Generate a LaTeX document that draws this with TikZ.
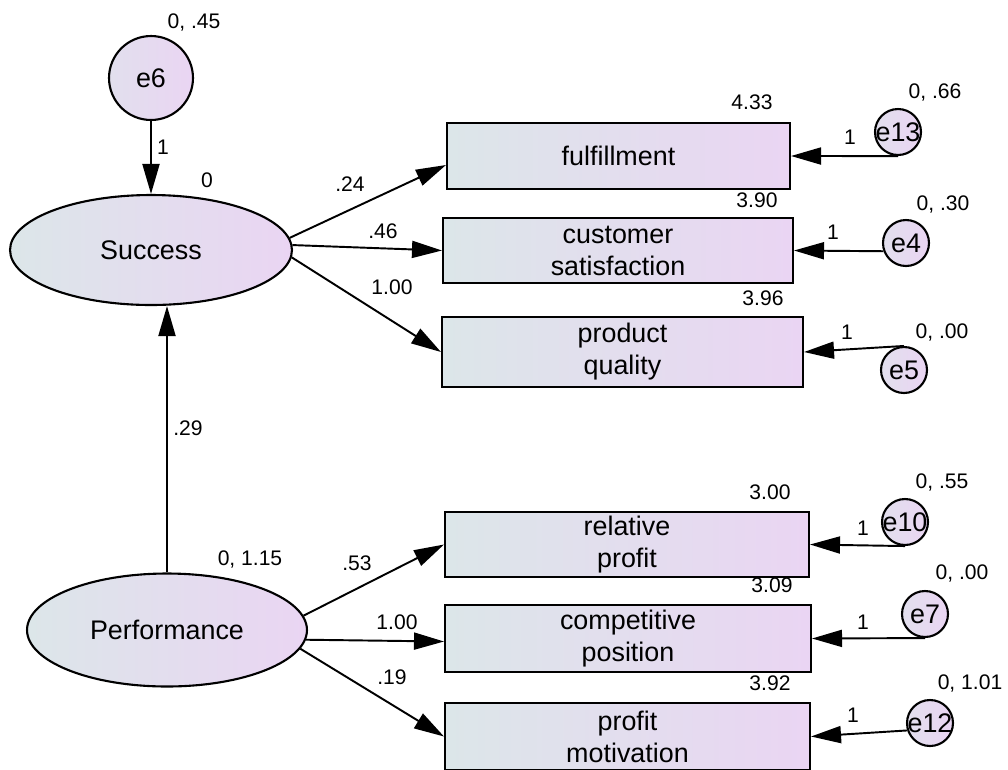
\documentclass[tikz,border=0pt]{standalone}
\usepackage{fontspec}
\setmainfont{Liberation Sans}
\usetikzlibrary{arrows.meta,shapes.geometric}
\definecolor{amosbl}{HTML}{DCE6E9}
\definecolor{amospk}{HTML}{EAD5F3}
\begin{document}
\begin{tikzpicture}[x=0.02cm,y=-0.02cm,
  every node/.style={font=\fontsize{15.3}{18.2}\selectfont},
  obs/.style={draw,line width=1.2pt,left color=amosbl,right color=amospk,align=center,inner sep=0},
  lat/.style={draw,ellipse,line width=1.2pt,left color=amosbl,right color=amospk,inner sep=0},
  err/.style={draw,circle,line width=1.2pt,left color=amosbl!60!amospk,right color=amospk,inner sep=0,minimum size=0.92cm},
  num/.style={font=\fontsize{12}{14}\selectfont,inner sep=0},
  arr/.style={line width=1.1pt,-{Triangle[length=0.6cm,width=0.34cm]}}]
\useasboundingbox (0,0) rectangle (1008,769);

\node[err,minimum size=1.68cm] (e6) at (151,78) {e6};
\node[lat,minimum width=5.64cm,minimum height=2.2cm] (suc) at (151,250) {Success};
\node[lat,minimum width=5.6cm,minimum height=2.26cm] (perf) at (167,630) {Performance};

\node[obs,minimum width=6.86cm,minimum height=1.32cm] (ful) at (618.5,156) {fulfillment};
\node[obs,minimum width=7cm,minimum height=1.3cm] (cs) at (618,250.5) {customer\\satisfaction};
\node[obs,minimum width=7.22cm,minimum height=1.4cm] (pq) at (622.5,352) {product\\quality};
\node[obs,minimum width=7.28cm,minimum height=1.3cm] (rp) at (627,544.5) {relative\\profit};
\node[obs,minimum width=7.32cm,minimum height=1.34cm] (cp) at (628,638.5) {competitive\\position};
\node[obs,minimum width=7.3cm,minimum height=1.34cm] (pm) at (627.5,736.5) {profit\\motivation};

\node[err] (e13) at (898,132) {\makebox[0pt]{e13}};
\node[err] (e4) at (906,243) {e4};
\node[err] (e5) at (904,370) {e5};
\node[err] (e10) at (905,522) {\makebox[0pt]{e10}};
\node[err] (e7) at (925,614) {e7};
\node[err] (e12) at (930,723) {\makebox[0pt]{e12}};

\draw[arr] (e6) -- (suc);
\draw[arr] (perf.north) -- (perf.north |- suc.south);
\draw[arr] (suc.5) -- ([yshift=-0.18cm]ful.west);
\draw[arr] (suc.2) -- (cs.west);
\draw[arr] (suc.-3) -- (pq.west);
\draw[arr] (perf.6) -- (rp.west);
\draw[arr] (perf.-4) -- ([yshift=-0.06cm]cp.west);
\draw[arr] (perf.-8) -- (pm.west);
\draw[arr] (e13.south) -- (ful.east);
\draw[arr] (e4.200) -- (cs.east);
\draw[arr] (e5.north) -- (pq.east);
\draw[arr] (e10.south) -- (rp.east);
\draw[arr] (e7.south) -- (cp.east);
\draw[arr] (e12.198) -- (pm.east);

\node[num] (v6) at (194,22) {0, .45};
\node[num] (w6) at (163,147) {1};
\node[num] (msuc) at (207,180) {0};
\node[num] (wful) at (350,184) {.24};
\node[num] (wcs) at (383,231) {.46};
\node[num] (wpq) at (392,287) {1.00};
\node[num] (wsuc) at (188,428) {.29};
\node[num] (vperf) at (250,559) {0, 1.15};
\node[num] (wrp) at (357,563) {.53};
\node[num] (wcp) at (397,622) {1.00};
\node[num] (wpm) at (392,677) {.19};

\node[num] (mful) at (752,102) {4.33};
\node[num] (mcs) at (757,200) {3.90};
\node[num] (mpq) at (763,298) {3.96};
\node[num] (mrp) at (770,492) {3.00};
\node[num] (mcp) at (772,585) {3.09};
\node[num] (mpm) at (770,683) {3.92};

\node[num] (v13) at (935,92) {0, .66};
\node[num] (w13) at (850,137) {1};
\node[num] (v4) at (943,204) {0, .30};
\node[num] (w4) at (833,232) {1};
\node[num] (v5) at (942,332) {0, .00};
\node[num] (w5) at (847,332) {1};
\node[num] (v10) at (942,482) {0, .55};
\node[num] (w10) at (863,528) {1};
\node[num] (v7) at (962,573) {0, .00};
\node[num] (w7) at (863,622) {1};
\node[num] (v12) at (970,683) {0, 1.01};
\node[num] (w12) at (853,715) {1};
\end{tikzpicture}
\end{document}
